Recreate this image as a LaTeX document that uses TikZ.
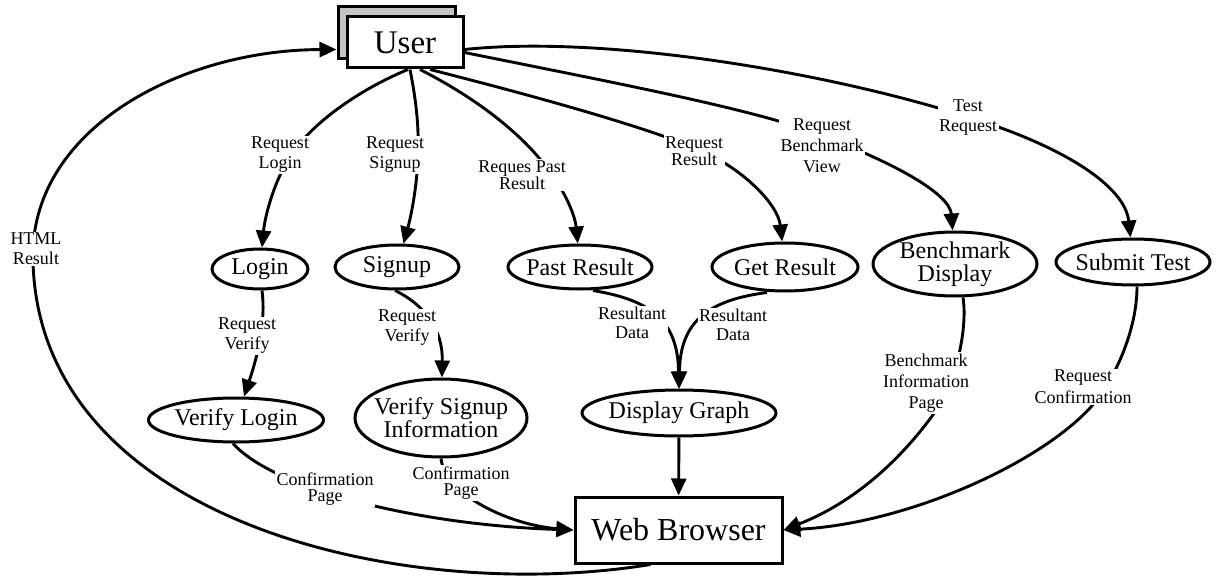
\documentclass[tikz,border=0pt]{standalone}
\usepackage{fontspec}
\setmainfont{Liberation Serif}
\usetikzlibrary{shapes.geometric,arrows.meta}

\begin{document}
\begin{tikzpicture}[x=1pt,y=-1pt,
  proc/.style={ellipse,draw,line width=3pt,fill=white,inner xsep=-20pt,inner ysep=0pt,
               align=center,font=\fontsize{24}{23}\selectfont},
  term/.style={rectangle,draw,line width=3pt,fill=white,inner sep=0pt,
               font=\fontsize{32}{36}\selectfont},
  flow/.style={line width=2.9pt,-{Triangle[length=17pt,width=15pt]}},
  lbl/.style={fill=white,inner sep=1.5pt,align=center,font=\fontsize{18}{20}\selectfont},
]
\useasboundingbox (0,0) rectangle (1220,577);

% external entities
\draw[line width=3pt,fill=black!23] (338,7) rectangle (455,59);
\node[term,minimum width=116pt,minimum height=51pt,font=\fontsize{33}{36}\selectfont] (user) at (405,42.5) {User};
\node[term,minimum width=207pt,minimum height=66pt] (web) at (678.5,530) {Web Browser};

% processes
\node[proc,minimum width=96pt,minimum height=40pt] (login) at (260,269) {Login};
\node[proc,minimum width=124pt,minimum height=44pt] (signup) at (397,267) {Signup};
\node[proc,minimum width=144pt,minimum height=44pt] (past) at (580,267) {Past Result};
\node[proc,minimum width=146pt,minimum height=48pt] (getr) at (785,267) {Get Result};
\node[proc,minimum width=164pt,minimum height=64pt] (bench) at (955,264) {Benchmark\\Display};
\node[proc,minimum width=154pt,minimum height=46pt] (submit) at (1133,262) {Submit Test};
\node[proc,minimum width=175pt,minimum height=44pt] (vlogin) at (236,420) {Verify Login};
\node[proc,minimum width=172pt,minimum height=78pt] (vsignup) at (441,418) {Verify Signup\\Information};
\node[proc,minimum width=194pt,minimum height=46pt] (dgraph) at (679,413) {Display Graph};

% requests from the user
\draw[flow] ([xshift=3pt]user.south) .. controls (370,85) and (320,115) .. (293,152)
            .. controls (275,178) and (265,215) .. (login);
\draw[flow] ([xshift=5pt]user.south) .. controls (416,100) and (419,125) .. (418,155)
            .. controls (417,190) and (410,220) .. (signup);
\draw[flow] ([xshift=15pt]user.south) .. controls (470,95) and (520,130) .. (550,172)
            .. controls (565,192) and (575,215) .. (past);
\draw[flow] ([xshift=25pt]user.south) .. controls (530,95) and (640,125) .. (700,150)
            .. controls (745,170) and (778,205) .. (getr);
\draw[flow] ([yshift=-10pt]user.east) .. controls (600,80) and (760,110) .. (820,135)
            .. controls (900,165) and (950,195) .. (bench);
\draw[flow] ([yshift=-7pt]user.east) .. controls (600,35) and (820,70) .. (968,117)
            .. controls (1060,145) and (1125,185) .. (submit);

% verification and results
\draw[flow] ([xshift=2pt]login.south) .. controls (266,320) and (258,355) .. (vlogin);
\draw[flow] ([xshift=-2pt]signup.south) .. controls (425,305) and (443,330) .. (vsignup);
\draw[flow] ([xshift=13pt]past.south) .. controls (650,300) and (678,320) .. (dgraph);
\draw[flow] ([xshift=-18pt]getr.south) .. controls (710,300) and (680,320) .. (dgraph);

% pages sent to the browser
\draw[flow] ([xshift=-3pt]vlogin.south) .. controls (275,490) and (420,525) .. (web.west);
\draw[flow] (vsignup.south) .. controls (445,495) and (510,525) .. (web.west);
\draw[flow] (dgraph) -- (web);
\draw[flow] ([xshift=8pt]bench.south) .. controls (968,330) and (955,385) .. (935,412)
            .. controls (900,461) and (853,503) .. (web.east);
\draw[flow] ([xshift=4pt]submit.south) .. controls (1137,330) and (1115,380) .. (1090,408)
            .. controls (1035.6,466.4) and (903,524) .. (web.east);

% browser output back to the user
\draw[flow] ([xshift=-28pt]web.south) .. controls (400,605) and (40,520) .. (33,262)
            .. controls (28,130) and (180,50) .. ([xshift=-9pt,yshift=-7pt]user.west);

% flow labels
\node[lbl] (l1) at (280,155) {Request\\Login};
\node[lbl] (l2) at (395,155) {Request\\Signup};
\node[lbl,font=\fontsize{18}{15}\selectfont] (l3) at (522,175) {Reques Past\\Result};
\node[lbl,font=\fontsize{18}{15}\selectfont] (l4) at (694,151) {Request\\Result};
\node[lbl,font=\fontsize{18}{21}\selectfont] (l5) at (822,146) {Request\\Benchmark\\View};
\node[lbl] (l6) at (968,118) {Test\\Request};
\node[lbl] (l7) at (247,336) {Request\\Verify};
\node[lbl] (l8) at (407,328) {Request\\Verify};
\node[lbl,font=\fontsize{18}{19}\selectfont] (l9) at (632,323) {Resultant\\Data};
\node[lbl,font=\fontsize{18}{19}\selectfont] (l10) at (733,325) {Resultant\\Data};
\node[lbl,font=\fontsize{18}{16}\selectfont] (l11) at (325,489) {Confirmation\\Page};
\node[lbl,font=\fontsize{18}{16}\selectfont] (l12) at (461,483) {Confirmation\\Page};
\node[lbl,font=\fontsize{18}{21}\selectfont] (l14) at (926,383) {Benchmark\\Information\\Page};
\node[lbl,font=\fontsize{18}{22}\selectfont] (l15) at (1083,387) {Request\\Confirmation};
\node[lbl] (l16) at (36,249) {HTML\\Result};
\end{tikzpicture}
\end{document}
